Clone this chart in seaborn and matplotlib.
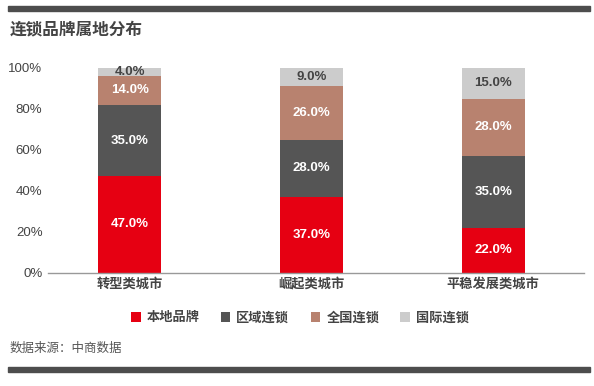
import numpy as np
import pandas as pd
import matplotlib.pyplot as plt
import seaborn as sns

# data
cities = ['转型类城市', '崛起类城市', '平稳发展类城市']
series = ['本地品牌', '区域连锁', '全国连锁', '国际连锁']
local = [47, 37, 22]
regional = [35, 28, 35]
national = [14, 26, 28]
intl = [4, 9, 15]

colors = ['#E60012', '#555555', '#B8826F', '#CCCCCC']
label_colors = ['white', 'white', 'white', '#444444']

sns.set_theme(style='white')
plt.rcParams['font.family'] = ['Liberation Sans', 'Noto Sans CJK SC', 'DejaVu Sans']

vals = np.array([local, regional, national, intl], dtype=float)
cum = vals.cumsum(axis=0)

fig = plt.figure(figsize=(5.94, 3.86), dpi=100)
ax = fig.add_axes([48 / 594, 1 - 272.5 / 386, 536 / 594, 204.5 / 386])

# stacked by drawing cumulative totals from the top down
for i in range(len(series) - 1, -1, -1):
    df = pd.DataFrame({'city': cities, 'value': cum[i]})
    sns.barplot(data=df, x='city', y='value', color=colors[i], width=0.347,
                saturation=1, ax=ax, label=series[i], linewidth=0, edgecolor='none')

for j in range(len(cities)):
    for i in range(len(series)):
        mid = cum[i, j] - vals[i, j] / 2
        ax.text(j, mid, f'{vals[i, j]:.1f}%', ha='center', va='center',
                fontsize=9.5, fontweight='bold', color=label_colors[i])

ax.set_xlim(-0.45, 2.5)
ax.set_ylim(0, 100)
ax.set_yticks([0, 20, 40, 60, 80, 100])
ax.set_yticklabels([f'{t}%' for t in range(0, 101, 20)], fontsize=9.5, color='#444444')
ax.set_xticks(range(3))
ax.set_xticklabels(cities, fontsize=9.5, fontweight='bold', color='#444444')
ax.set_xlabel('')
ax.set_ylabel('')
ax.tick_params(axis='both', length=0, pad=4)
for s in ['top', 'right', 'left']:
    ax.spines[s].set_visible(False)
ax.spines['bottom'].set_color('#999999')
ax.spines['bottom'].set_linewidth(1)
if ax.get_legend():
    ax.get_legend().remove()

handles, labels = ax.get_legend_handles_labels()
order = [labels.index(s) for s in series]
leg = fig.legend([handles[k] for k in order], series, loc='center',
                 bbox_to_anchor=(0.505, 1 - 318 / 386), ncol=4, frameon=False,
                 prop={'size': 9.5, 'weight': 'bold'}, handlelength=0.75,
                 handleheight=0.75, columnspacing=1.6, handletextpad=0.45)
for t in leg.get_texts():
    t.set_color('#444444')

# decorations
fig.patches.append(plt.Rectangle((8 / 594, 1 - 11 / 386), 582 / 594, 5 / 386,
                                 transform=fig.transFigure, color='#4D4D4D'))
fig.patches.append(plt.Rectangle((8 / 594, 1 - 372 / 386), 582 / 594, 5 / 386,
                                 transform=fig.transFigure, color='#4D4D4D'))
fig.text(10 / 594, 1 - 30 / 386, '连锁品牌属地分布', fontsize=12, fontweight='bold',
         color='#444444', va='center')
fig.text(10 / 594, 1 - 349 / 386, '数据来源：中商数据', fontsize=9, color='#555555', va='center')

fig.savefig('out.png', dpi=100)
